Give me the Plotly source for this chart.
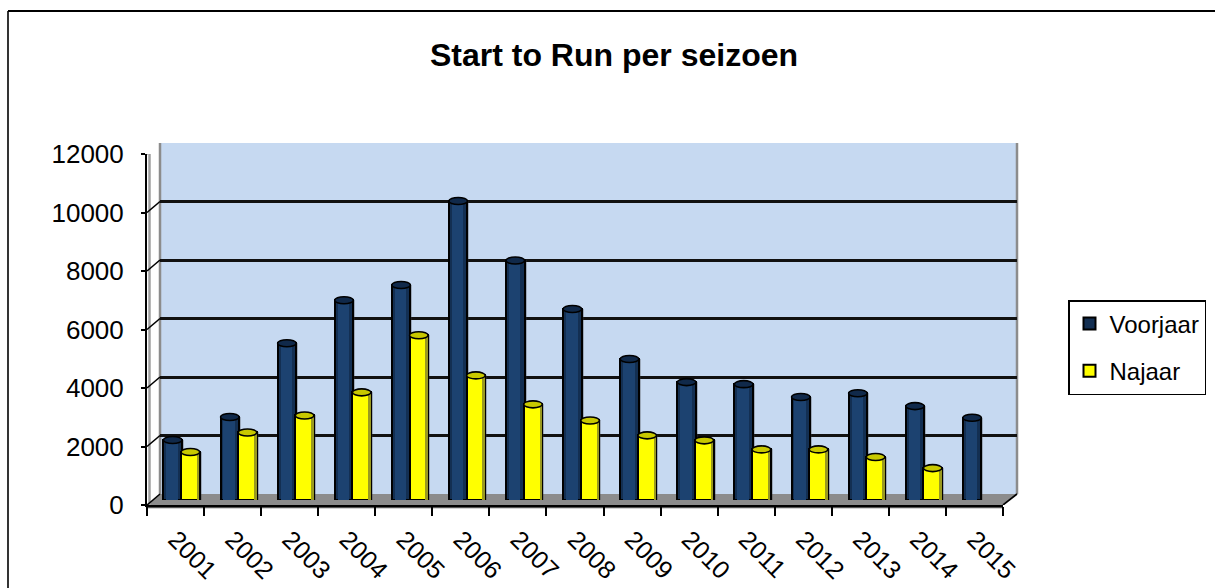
import plotly.graph_objects as go

years = [str(y) for y in range(2001, 2016)]
voorjaar = [2050, 2840, 5360, 6830, 7350, 10220, 8190, 6530, 4820, 4030, 3960, 3520, 3650, 3210, 2810]
najaar = [1640, 2310, 2890, 3680, 5630, 4260, 3270, 2720, 2210, 2040, 1730, 1730, 1470, 1090]
y_ticks = [0, 2000, 4000, 6000, 8000, 10000, 12000]
series_names = ["Voorjaar", "Najaar"]

W, H = 1215, 588
FONT = "Liberation Sans"
NAVY, NAVY_LT, NAVY_TOP = "#132f52", "#1c4270", "#10294a"
YEL, YEL_LT, YEL_TOP = "#e6e600", "#ffff00", "#c8c800"
BAR_W = 0.325
OFFS = [-0.155, 0.155]
DY = 3.5 / 351 * 12000  # half height of the top ellipse, in data units

def px(a, b):
    return [a / W, b / W]

def py(top, bottom):
    return [1 - bottom / H, 1 - top / H]

xs = list(range(1, len(years) + 1))
xr = [0.5, len(years) + 0.5]
yr = [0, 12000]

fig = go.Figure()

fig.add_trace(go.Scatter(x=[1], y=[0], xaxis="x", yaxis="y", mode="markers",
                         marker=dict(opacity=0), showlegend=False, hoverinfo="skip"))
fig.add_trace(go.Scatter(x=[1], y=[0], xaxis="x2", yaxis="y2", mode="markers",
                         marker=dict(opacity=0), showlegend=False, hoverinfo="skip"))

shapes = []

for vals, off, name, base, light, top, in [
    (voorjaar, OFFS[0], series_names[0], NAVY, NAVY_LT, NAVY_TOP),
    (najaar, OFFS[1], series_names[1], YEL, YEL_LT, YEL_TOP),
]:
    n = len(vals)
    bx = [xs[i] + off for i in range(n)]
    fig.add_trace(go.Bar(x=[b + 0.035 for b in bx], y=vals, width=BAR_W, xaxis="x3", yaxis="y3",
                         marker=dict(color="rgba(60,60,60,0.3)", line=dict(width=0)),
                         showlegend=False, hoverinfo="skip"))
    fig.add_trace(go.Bar(x=bx, y=vals, width=BAR_W, xaxis="x3", yaxis="y3", name=name, legendgroup=name,
                         marker=dict(color=base if name == "Voorjaar" else light,
                                     line=dict(color="#000000", width=2))))
    if name == "Najaar":
        fig.add_trace(go.Bar(x=[b + BAR_W * 0.42 for b in bx], y=vals, width=BAR_W * 0.14, xaxis="x3", yaxis="y3",
                             marker=dict(color="#9a9a20", line=dict(width=0)),
                             showlegend=False, hoverinfo="skip"))
    else:
        fig.add_trace(go.Bar(x=[b - 0.01 for b in bx], y=vals, width=BAR_W * 0.62, xaxis="x3", yaxis="y3",
                             marker=dict(color=light, line=dict(width=0)),
                             showlegend=False, hoverinfo="skip"))
    for b, v in zip(bx, vals):
        shapes.append(dict(type="circle", xref="x3", yref="y3", layer="above",
                           x0=b - BAR_W / 2, x1=b + BAR_W / 2, y0=v - DY, y1=v + DY,
                           fillcolor=top, line=dict(color="#000000", width=1.6)))
        shapes.append(dict(type="circle", xref="x3", yref="y3", layer="below",
                           x0=b - BAR_W / 2, x1=b + BAR_W / 2, y0=-DY, y1=DY,
                           fillcolor=base, line=dict(color="#000000", width=1.4)))

def P(x, y):
    return f"{x / W:.5f} {1 - y / H:.5f}"

shapes += [
    dict(type="rect", xref="paper", yref="paper", layer="below",
         x0=160 / W, x1=1017 / W, y0=1 - 494 / H, y1=1 - 143 / H,
         fillcolor="#c6d9f1", line=dict(width=0)),
    dict(type="path", xref="paper", yref="paper", layer="below",
         path=f"M{P(147, 505)} L{P(1003, 505)} L{P(1017, 494)} L{P(160, 494)} Z",
         fillcolor="#8c8c8c", line=dict(width=0)),
    dict(type="line", xref="paper", yref="paper", layer="below",
         x0=160 / W, x1=160 / W, y0=1 - 494 / H, y1=1 - 143 / H, line=dict(color="#8c8c8c", width=2.5)),
    dict(type="line", xref="paper", yref="paper", layer="below",
         x0=1017 / W, x1=1017 / W, y0=1 - 494 / H, y1=1 - 143 / H, line=dict(color="#8c8c8c", width=2.5)),
    dict(type="line", xref="paper", yref="paper", layer="below",
         x0=149.5 / W, x1=149.5 / W, y0=1 - 505 / H, y1=1 - 154 / H, line=dict(color="#a0a0a0", width=2.5)),
    dict(type="line", xref="paper", yref="paper", layer="below",
         x0=147 / W, x1=1003 / W, y0=1 - 507.5 / H, y1=1 - 507.5 / H, line=dict(color="#555555", width=1.5)),
    dict(type="line", xref="paper", yref="paper", x0=8 / W, x1=1, y0=1 - 11 / H, y1=1 - 11 / H,
         line=dict(color="#000000", width=2)),
    dict(type="line", xref="paper", yref="paper", x0=8 / W, x1=8 / W, y0=0, y1=1 - 11 / H,
         line=dict(color="#000000", width=1.6)),
]

for t in y_ticks:
    shapes.append(dict(type="line", xref="paper", yref="y2", x0=147 / W, x1=160 / W,
                       y0=t, y1=t + 11 / 351 * 12000, line=dict(color="#000000", width=1.6)))
shapes.append(dict(type="line", xref="x2 domain", yref="y2", x0=1, x1=1 + 14 / 856,
                   y0=0, y1=11 / 351 * 12000, line=dict(color="#000000", width=1.6)))

axis_hidden = dict(showgrid=False, zeroline=False, showline=False, showticklabels=False, ticks="", automargin=False)

fig.update_layout(
    width=W, height=H, margin=dict(l=0, r=0, t=0, b=0, pad=0, autoexpand=False),
    paper_bgcolor="#ffffff", plot_bgcolor="rgba(0,0,0,0)",
    barmode="overlay", bargap=0,
    font=dict(family=FONT, color="#000000", size=25),
    title=dict(text="<b>Start to Run per seizoen</b>", x=614 / W, xanchor="center",
               y=1 - 55 / H, yanchor="middle", font=dict(family=FONT, size=32, color="#000000")),
    xaxis=dict(domain=px(160, 1017), range=xr, anchor="y", **axis_hidden),
    yaxis=dict(domain=py(143, 494), range=yr, anchor="x", showgrid=True, gridcolor="#111111", gridwidth=3,
               tickvals=y_ticks, zeroline=False, showline=False, showticklabels=False, ticks="", automargin=False),
    xaxis2=dict(domain=px(147, 1003), range=xr, anchor="y2", showgrid=False, zeroline=False, automargin=False,
                showline=True, linecolor="#000000", linewidth=2,
                tickmode="array", tickvals=xs, ticktext=years, tickangle=45,
                ticks="outside", ticklen=8, tickcolor="rgba(0,0,0,0)", tickwidth=1,
                tickfont=dict(size=25, family=FONT),
                minor=dict(tickmode="array", tickvals=[x - 0.5 for x in xs] + [xs[-1] + 0.5],
                           ticks="outside", ticklen=9, tickcolor="#000000", tickwidth=2)),
    yaxis2=dict(domain=py(154, 505), range=yr, anchor="x2", showgrid=False, zeroline=False, automargin=False,
                showline=True, linecolor="#000000", linewidth=2,
                tickmode="array", tickvals=y_ticks, ticktext=[str(t) for t in y_ticks],
                ticks="outside", ticklen=16, tickcolor="rgba(0,0,0,0)", tickwidth=1,
                tickfont=dict(size=26, family=FONT),
                minor=dict(tickmode="array", tickvals=y_ticks,
                           ticks="outside", ticklen=4, tickcolor="#000000", tickwidth=2)),
    xaxis3=dict(domain=px(153, 1009.5), range=xr, anchor="y3", **axis_hidden),
    yaxis3=dict(domain=py(149, 500), range=yr, anchor="x3", **axis_hidden),
    legend=dict(x=1068 / W, y=1 - 300 / H, xanchor="left", yanchor="top",
                bgcolor="#ffffff", bordercolor="#000000", borderwidth=1.5,
                font=dict(size=24, family=FONT), tracegroupgap=13, itemwidth=30),
    shapes=shapes,
    showlegend=True,
)

fig.write_html("out.html", config=dict(displayModeBar=False), post_script="document.body.style.margin='0';")
